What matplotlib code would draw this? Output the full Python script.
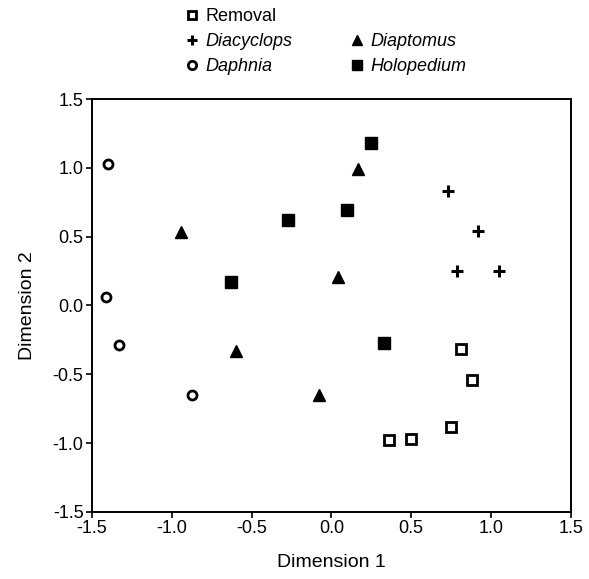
import matplotlib
matplotlib.use("Agg")
import matplotlib.pyplot as plt
from matplotlib.lines import Line2D

plt.rcParams['font.family'] = ['Liberation Sans', 'DejaVu Sans']

# coordinates (dimension 1, dimension 2)
removal_x = [0.81, 0.88, 0.75, 0.50, 0.36]
removal_y = [-0.32, -0.54, -0.88, -0.97, -0.98]

diacyclops_x = [0.73, 0.92, 0.79, 1.05]
diacyclops_y = [0.83, 0.54, 0.25, 0.25]

diaptomus_x = [-0.94, -0.60, 0.17, 0.04, -0.08]
diaptomus_y = [0.53, -0.33, 0.99, 0.21, -0.65]

daphnia_x = [-1.40, -1.41, -1.33, -0.87]
daphnia_y = [1.03, 0.06, -0.29, -0.65]

holopedium_x = [-0.27, -0.63, 0.25, 0.10, 0.33]
holopedium_y = [0.62, 0.17, 1.18, 0.69, -0.27]

ticks = [-1.5, -1.0, -0.5, 0.0, 0.5, 1.0, 1.5]

fig = plt.figure(figsize=(5.89, 5.79), dpi=100)
ax = fig.add_axes([0.156, 0.116, 0.813, 0.713])

ax.plot(removal_x, removal_y, ls='none', marker='s', ms=6.5, mfc='white', mec='black', mew=2)
ax.plot(diacyclops_x, diacyclops_y, ls='none', marker='+', ms=8, color='black', mew=2.2)
ax.plot(diaptomus_x, diaptomus_y, ls='none', marker='^', ms=8, color='black')
ax.plot(daphnia_x, daphnia_y, ls='none', marker='o', ms=6.5, mfc='white', mec='black', mew=2)
ax.plot(holopedium_x, holopedium_y, ls='none', marker='s', ms=8, color='black')

ax.set_xlim(-1.5, 1.5)
ax.set_ylim(-1.5, 1.5)
ax.set_xticks(ticks)
ax.set_yticks(ticks)
ax.set_xticklabels([f"{t:.1f}" for t in ticks])
ax.set_yticklabels([f"{t:.1f}" for t in ticks])
ax.tick_params(direction='out', length=4, width=1.2, labelsize=13, pad=2)
for s in ax.spines.values():
    s.set_linewidth(1.4)
ax.set_xlabel("Dimension 1", fontsize=14, labelpad=12)
ax.set_ylabel("Dimension 2", fontsize=14, labelpad=12)

h_rem = Line2D([], [], ls='none', marker='s', ms=6, mfc='white', mec='black', mew=2)
h_dia = Line2D([], [], ls='none', marker='+', ms=7.5, color='black', mew=2.2)
h_dap = Line2D([], [], ls='none', marker='o', ms=6, mfc='white', mec='black', mew=2)
h_blank = Line2D([], [], ls='none')
h_dpt = Line2D([], [], ls='none', marker='^', ms=7.5, color='black')
h_hol = Line2D([], [], ls='none', marker='s', ms=7.5, color='black')

leg = fig.legend([h_rem, h_dia, h_dap, h_blank, h_dpt, h_hol],
                 ["Removal", "Diacyclops", "Daphnia", "", "Diaptomus", "Holopedium"],
                 ncol=2, loc='upper left', bbox_to_anchor=(0.295, 1.008),
                 frameon=False, fontsize=13, handlelength=0.6, handletextpad=0.45,
                 columnspacing=3.3, labelspacing=0.45, borderpad=0.2)
for t in leg.get_texts():
    if t.get_text() not in ("Removal", ""):
        t.set_fontstyle('italic')

fig.savefig("out.png", dpi=100)
